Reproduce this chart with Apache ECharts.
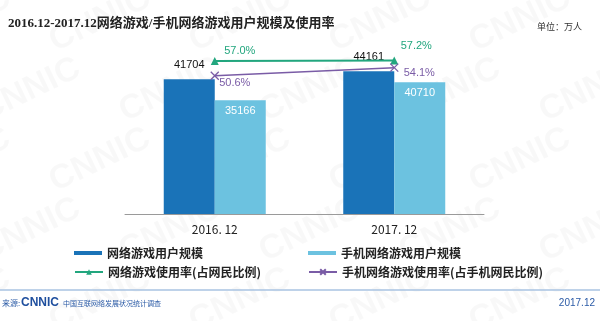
<!DOCTYPE html>
<html>
<head>
<meta charset="utf-8">
<script src="https://cdn.jsdelivr.net/npm/echarts@6/dist/echarts.min.js"></script>
<style>html,body{margin:0;padding:0;background:#fff;}#c{width:600px;height:321px;}</style>
</head>
<body>
<div id="c"></div>
<script>
var categories = ['2016. 12', '2017. 12'];
var gameUsers = [41704, 44161];
var mobileGameUsers = [35166, 40710];
var gameRate = [57.0, 57.2];
var mobileGameRate = [50.6, 54.1];
var seriesNames = ['网络游戏用户规模', '手机网络游戏用户规模', '网络游戏使用率(占网民比例)', '手机网络游戏使用率(占手机网民比例)'];

var DARK = '#1a73b8', LIGHT = '#6cc2e0', GREEN = '#22a67e', PURPLE = '#7a5ca6';
var rateOffsetsG = [[25, -10], [22, -15]];
var rateOffsetsP = [[20, 7], [25, 5]];

var chart = echarts.init(document.getElementById('c'), null, {renderer: 'canvas'});

var wm = [];
var rows = [20, 90, 160, 230, 300];
rows.forEach(function (y, r) {
  for (var x = -40 + (r % 2) * 70; x < 640; x += 140) {
    wm.push({
      type: 'text', x: x, y: y, rotation: 0.45, z: -10, silent: true,
      style: {text: 'CNNIC', fill: 'rgba(0,0,0,0.028)', font: 'bold 34px "Liberation Sans", Arial', textAlign: 'center', textVerticalAlign: 'middle'}
    });
  }
});

var legendText = {fontFamily: '"Noto Sans CJK SC", sans-serif', fontSize: 12, fontWeight: 'bold', color: '#222'};
var barIcon = 'path://M0,0H28V4H0Z';

var option = {
  backgroundColor: '#fff',
  animation: false,
  title: [
    {text: '2016.12-2017.12网络游戏/手机网络游戏用户规模及使用率', left: 3, top: 12,
     textStyle: {fontFamily: '"Liberation Serif", "Noto Sans CJK SC", serif', fontSize: 13, fontWeight: 'bold', color: '#222'}},
    {text: '单位：万人', right: 13, top: 17,
     textStyle: {fontFamily: '"Noto Sans CJK SC", sans-serif', fontSize: 9, fontWeight: 'normal', color: '#333'}}
  ],
  grid: {left: 125, right: 116, top: 20, bottom: 107},
  legend: [
    {left: 69, top: 242, itemWidth: 28, itemHeight: 14, textStyle: legendText,
     data: [{name: seriesNames[0], icon: barIcon}]},
    {left: 303, top: 242, itemWidth: 28, itemHeight: 14, textStyle: legendText,
     data: [{name: seriesNames[1], icon: barIcon}]},
    {left: 69, top: 261, itemWidth: 28, itemHeight: 7, textStyle: legendText,
     data: [{name: seriesNames[2]}]},
    {left: 303, top: 261, itemWidth: 28, itemHeight: 7, textStyle: legendText,
     data: [{name: seriesNames[3]}]}
  ],
  xAxis: {
    type: 'category', data: categories,
    axisLine: {lineStyle: {color: '#9a9a9a', width: 1}},
    axisTick: {show: false},
    axisLabel: {margin: 9, fontFamily: '"Noto Sans CJK SC", sans-serif', fontSize: 12, color: '#222'}
  },
  yAxis: [
    {type: 'value', min: 0, max: 60000, show: false, splitLine: {show: false}},
    {type: 'value', min: -9.5, max: 74.8, show: false, splitLine: {show: false}}
  ],
  series: [
    {name: seriesNames[0], type: 'bar', data: gameUsers, barWidth: 51, barGap: '0%',
     itemStyle: {color: DARK},
     label: {show: true, position: 'top', distance: 9, color: '#111', fontFamily: '"Liberation Sans", Arial', fontSize: 11}},
    {name: seriesNames[1], type: 'bar', data: mobileGameUsers, barWidth: 51, barGap: '0%',
     itemStyle: {color: LIGHT},
     label: {show: true, position: 'insideTop', distance: 5, color: '#fff', fontFamily: '"Liberation Sans", Arial', fontSize: 11}},
    {name: seriesNames[2], type: 'line', yAxisIndex: 1, z: 5,
     data: gameRate.map(function (v, i) {
       return {value: v, label: {offset: rateOffsetsG[i]}};
     }),
     symbol: 'triangle', symbolSize: 8,
     lineStyle: {color: GREEN, width: 2}, itemStyle: {color: GREEN},
     label: {show: true, position: 'inside', color: GREEN, fontFamily: '"Liberation Sans", Arial', fontSize: 11,
       formatter: function (p) { return p.value.toFixed(1) + '%'; }}},
    {name: seriesNames[3], type: 'line', yAxisIndex: 1, z: 5,
     data: mobileGameRate.map(function (v, i) {
       return {value: v, label: {offset: rateOffsetsP[i]}};
     }),
     symbol: 'path://M0,0L10,10M10,0L0,10', symbolSize: 8,
     lineStyle: {color: PURPLE, width: 1.5}, itemStyle: {color: PURPLE, borderColor: PURPLE, borderWidth: 1.3},
     label: {show: true, position: 'inside', color: PURPLE, fontFamily: '"Liberation Sans", Arial', fontSize: 11,
       formatter: function (p) { return p.value.toFixed(1) + '%'; }}}
  ],
  graphic: wm.concat([
    {type: 'line', shape: {x1: 0, y1: 290, x2: 600, y2: 290}, style: {stroke: '#a9c3e2', lineWidth: 1.5}, silent: true},
    {type: 'text', x: 2, y: 303, style: {text: '来源:', fill: '#2a5aa6', font: '8px "Noto Sans CJK SC"', textVerticalAlign: 'middle'}},
    {type: 'text', x: 21, y: 303, style: {text: 'CNNIC', fill: '#1f4f9e', font: 'bold 12px "Liberation Sans", Arial', textVerticalAlign: 'middle'}},
    {type: 'text', x: 63, y: 303, style: {text: '中国互联网络发展状况统计调查', fill: '#2a5aa6', font: '7px "Noto Sans CJK SC"', textVerticalAlign: 'middle'}},
    {type: 'text', x: 595, y: 303, style: {text: '2017.12', fill: '#2a5aa6', font: '10px "Liberation Sans", Arial', textAlign: 'right', textVerticalAlign: 'middle'}}
  ])
};
chart.setOption(option);
</script>
</body>
</html>
